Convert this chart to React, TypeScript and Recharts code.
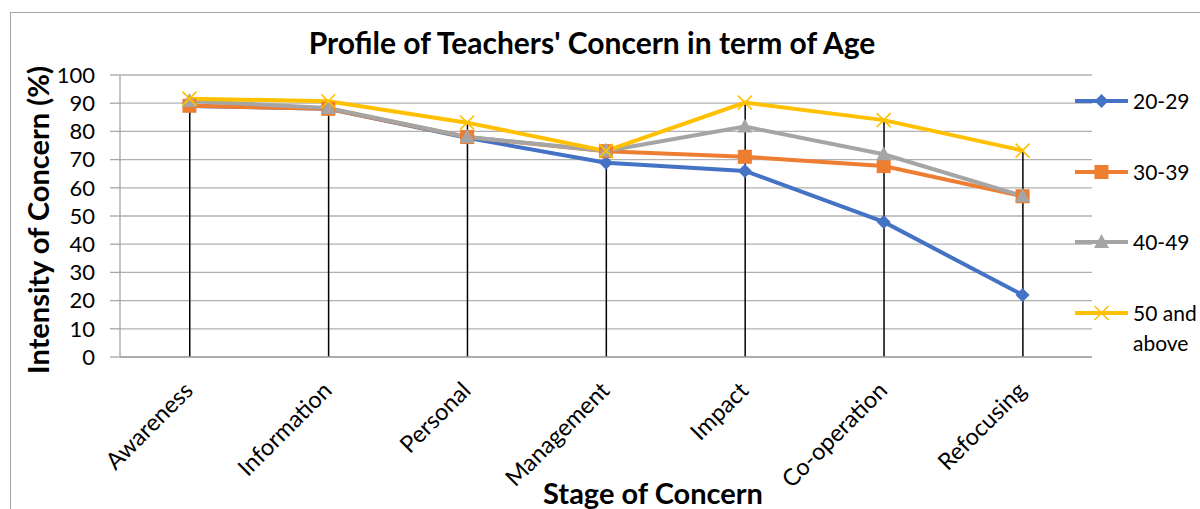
import React from 'react';
import { ComposedChart, Line, Bar, XAxis, YAxis, CartesianGrid, Legend, Label } from 'recharts';

const categories = ['Awareness', 'Information', 'Personal', 'Management', 'Impact', 'Co-operation', 'Refocusing'];
const age20_29 = [89, 88, 77.7, 68.9, 66, 47.9, 22];
const age30_39 = [89.1, 88, 78, 73, 71, 67.7, 57];
const age40_49 = [90.8, 88.3, 78, 73.1, 81.7, 71.9, 57.1];
const age50plus = [91.6, 90.7, 83.1, 73.1, 90.2, 84, 73.2];
const yTicks = [0, 10, 20, 30, 40, 50, 60, 70, 80, 90, 100];

const seriesDefs = [
  { key: 'a2029', name: '20-29', color: '#4472C4', marker: 'diamond', values: age20_29 },
  { key: 'a3039', name: '30-39', color: '#ED7D31', marker: 'square', values: age30_39 },
  { key: 'a4049', name: '40-49', color: '#A5A5A5', marker: 'triangle', values: age40_49 },
  { key: 'a50', name: '50 and above', color: '#FFC000', marker: 'x', values: age50plus },
];

const data = categories.map((stage, i) => {
  const row: any = { stage };
  seriesDefs.forEach((s) => { row[s.key] = s.values[i]; });
  row.drop = Math.max(...seriesDefs.map((s) => s.values[i]));
  return row;
});

const FONT = 'Lato, "Open Sans", sans-serif';

function Marker({ kind, cx, cy, color }: { kind: string; cx: number; cy: number; color: string }) {
  if (cx == null || cy == null) return null;
  if (kind === 'diamond') {
    const h = 7;
    return <polygon points={`${cx},${cy - h} ${cx + h},${cy} ${cx},${cy + h} ${cx - h},${cy}`} fill={color} />;
  }
  if (kind === 'square') {
    const h = 7;
    return <rect x={cx - h} y={cy - h} width={2 * h} height={2 * h} fill={color} />;
  }
  if (kind === 'triangle') {
    return <polygon points={`${cx},${cy - 8} ${cx + 7.5},${cy + 6} ${cx - 7.5},${cy + 6}`} fill={color} />;
  }
  const h = 7;
  return (
    <g stroke={color} strokeWidth={1.6}>
      <line x1={cx - h} y1={cy - h} x2={cx + h} y2={cy + h} />
      <line x1={cx - h} y1={cy + h} x2={cx + h} y2={cy - h} />
    </g>
  );
}

const XTick = (props: any) => {
  const { x, y, payload } = props;
  const ax = x + 5;
  const ay = y + 27;
  return (
    <text x={ax} y={ay} transform={`rotate(-45 ${ax} ${ay})`} textAnchor="end" fontSize={23.5} fontFamily={FONT} fill="#000">
      {payload.value}
    </text>
  );
};

const YTitle = (props: any) => {
  const vb = props.viewBox || { y: 75, height: 282 };
  const cx = 37;
  const cy = vb.y + vb.height / 2 + 4;
  return (
    <text x={cx} y={cy} transform={`rotate(-90 ${cx} ${cy})`} textAnchor="middle" dominantBaseline="central" fontSize={29} fontWeight={700} fontFamily={FONT} fill="#000">
      Intensity of Concern (%)
    </text>
  );
};

const XTitle = (props: any) => {
  const vb = props.viewBox || { x: 120, width: 972 };
  const cx = vb.x + vb.width / 2 + 47;
  return (
    <text x={cx} y={504} textAnchor="middle" fontSize={29} fontWeight={700} fontFamily={FONT} fill="#000">
      Stage of Concern
    </text>
  );
};

const LegendContent = (props: any) => {
  const payload = (props.payload || []).filter((p: any) => p.type !== 'none');
  return (
    <div style={{ fontFamily: FONT, fontSize: 21, color: '#000' }}>
      {payload.map((p: any) => {
        const def = seriesDefs.find((s) => s.key === p.dataKey) || seriesDefs[0];
        return (
          <div key={p.dataKey} style={{ display: 'flex', alignItems: 'flex-start', height: 70.5 }}>
            <svg width={58} height={30} style={{ flex: 'none' }}>
              <line x1={0} y1={15} x2={53} y2={15} stroke={def.color} strokeWidth={4} />
              <Marker kind={def.marker} cx={26.5} cy={15} color={def.color} />
            </svg>
            <div style={{ width: 66, lineHeight: '30px' }}>{p.value}</div>
          </div>
        );
      })}
    </div>
  );
};

export default function App() {
  return (
    <div style={{ position: 'absolute', left: 0, top: 0, width: 1200, height: 509, overflow: 'hidden', background: '#fff' }}>
      <div style={{ position: 'absolute', left: 10, top: 12, width: 1300, height: 600, border: '1.5px solid #a6a6a6', boxSizing: 'border-box' }} />
      <div style={{ position: 'absolute', left: 0, top: 24, width: 1184, textAlign: 'center', fontFamily: FONT, fontWeight: 700, fontSize: 30, color: '#000', lineHeight: '36px' }}>
        Profile of Teachers' Concern in term of Age
      </div>
      <div style={{ position: 'absolute', left: 0, top: 0 }}>
        <ComposedChart width={1200} height={509} data={data} margin={{ top: 75, right: 108, bottom: 0, left: 0 }}>
          <CartesianGrid horizontal vertical={false} stroke="#b0b0b0" strokeWidth={1.3} />
          <XAxis dataKey="stage" interval={0} height={152} tickLine={false} axisLine={{ stroke: '#a6a6a6', strokeWidth: 1.3 }} tick={<XTick />}>
            <Label content={<XTitle />} />
          </XAxis>
          <YAxis domain={[0, 100]} ticks={yTicks} interval={0} width={120} tickSize={10} tickMargin={15} axisLine={{ stroke: '#a6a6a6', strokeWidth: 1.3 }} tickLine={{ stroke: '#a6a6a6', strokeWidth: 1.3 }} tick={{ fill: '#000', fontSize: 22, fontFamily: FONT }}>
            <Label content={<YTitle />} />
          </YAxis>
          <Bar dataKey="drop" barSize={1.5} fill="#000" legendType="none" isAnimationActive={false} />
          {seriesDefs.map((s) => (
            <Line
              key={s.key}
              dataKey={s.key}
              name={s.name}
              stroke={s.color}
              strokeWidth={4}
              isAnimationActive={false}
              dot={(p: any) => <Marker key={`${s.key}-${p.index}`} kind={s.marker} cx={p.cx} cy={p.cy} color={s.color} />}
              activeDot={false}
            />
          ))}
          <Legend layout="vertical" align="center" verticalAlign="middle" content={<LegendContent />} wrapperStyle={{ left: 1075, top: 86, width: 125, height: 290 }} />
        </ComposedChart>
      </div>
    </div>
  );
}
